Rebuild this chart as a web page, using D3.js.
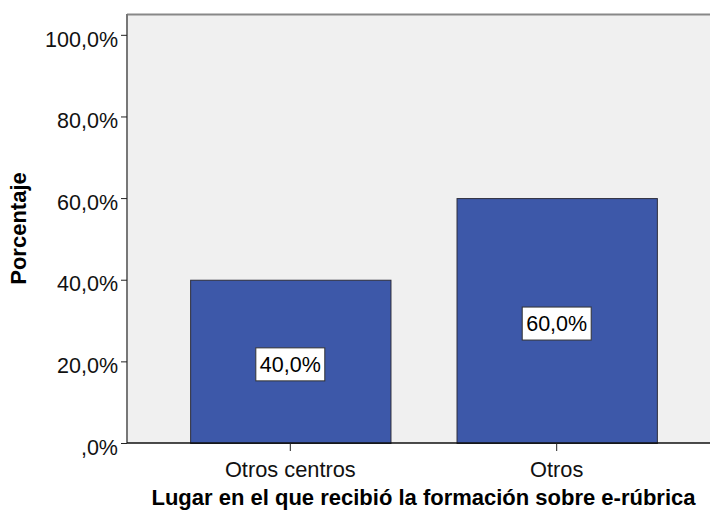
<!DOCTYPE html>
<html><head><meta charset="utf-8">
<script src="https://cdn.jsdelivr.net/npm/d3@7"></script>
<style>body{margin:0;background:#fff}svg{display:block}text{font-family:"Liberation Sans",Arial,sans-serif}</style>
</head><body><svg id="c" width="710" height="513"></svg>
<script>
const categories = ["Otros centros", "Otros"];
const values = [40.0, 60.0];
const yTicks = [0, 20, 40, 60, 80, 100];
const xTitle = "Lugar en el que recibió la formación sobre e-rúbrica";
const yTitle = "Porcentaje";

const fmt = v => (v === 0 ? ",0%" : d3.format(".1f")(v).replace(".", ",") + "%");
const svg = d3.select("#c");
const L = 127, R = 720, T = 14, B = 443;
const x = d3.scaleBand().domain(categories).range([L, R]).paddingInner(0.248).paddingOuter(0.237);
const y = d3.scaleLinear().domain([0, 105.1]).range([B, T]);

svg.append("rect").attr("x", L).attr("y", T).attr("width", R - L).attr("height", B - T).attr("fill", "#f0f0f0");
svg.append("line").attr("x1", L).attr("x2", R).attr("y1", T + 0.5).attr("y2", T + 0.5).attr("stroke", "#888").attr("stroke-width", 2);

svg.selectAll("rect.bar").data(values).enter().append("rect").attr("class", "bar")
  .attr("x", (d, i) => x(categories[i]) + 0.5).attr("y", d => y(d) + 0.5)
  .attr("width", x.bandwidth()).attr("height", d => B - y(d))
  .attr("fill", "#3d58a9").attr("stroke", "#2c2c3a").attr("stroke-width", 1);

// y axis
const ya = svg.append("g").attr("transform", `translate(${L},0)`)
  .call(d3.axisLeft(y).tickValues(yTicks).tickSize(6).tickPadding(3).tickFormat(fmt));
ya.select(".domain").attr("stroke", "#777").attr("stroke-width", 2).attr("d", `M0,${T}V${B}`);
ya.selectAll(".tick line").attr("stroke", "#222");
ya.selectAll(".tick text").attr("font-size", 21.5).attr("fill", "#111").attr("dy", "0.52em").attr("font-family", "Liberation Sans, Arial, sans-serif");

// x axis
const xa = svg.append("g").attr("transform", `translate(0,${B})`)
  .call(d3.axisBottom(x).tickSize(8).tickPadding(5).tickSizeOuter(0));
xa.select(".domain").attr("stroke", "#111").attr("stroke-width", 1.5).attr("d", `M${L},0H${R}`);
xa.selectAll(".tick line").attr("stroke", "#222");
xa.selectAll(".tick text").attr("font-size", 21.8).attr("fill", "#111").attr("dy", "0.95em").attr("font-family", "Liberation Sans, Arial, sans-serif");

// value labels
values.forEach((v, i) => {
  const cx = x(categories[i]) + x.bandwidth() / 2;
  const cy = (y(v) + B) / 2 + 3;
  const g = svg.append("g");
  const t = g.append("text").attr("x", cx).attr("y", cy).attr("text-anchor", "middle")
    .attr("dy", "0.36em").attr("font-size", 21.5).attr("fill", "#000").text(fmt(v));
  const bb = t.node().getBBox();
  g.insert("rect", "text").attr("x", cx - bb.width / 2 - 4).attr("y", cy - 16.5)
    .attr("width", bb.width + 8).attr("height", 33).attr("fill", "#fff").attr("stroke", "#333").attr("stroke-width", 1);
});

svg.append("text").attr("x", (L + R) / 2).attr("y", 505).attr("text-anchor", "middle")
  .attr("font-size", 22).attr("font-weight", "bold").attr("fill", "#000").text(xTitle);
svg.append("text").attr("transform", `translate(26,${(T + B) / 2}) rotate(-90)`).attr("text-anchor", "middle")
  .attr("font-size", 22).attr("font-weight", "bold").attr("fill", "#000").text(yTitle);
</script></body></html>
